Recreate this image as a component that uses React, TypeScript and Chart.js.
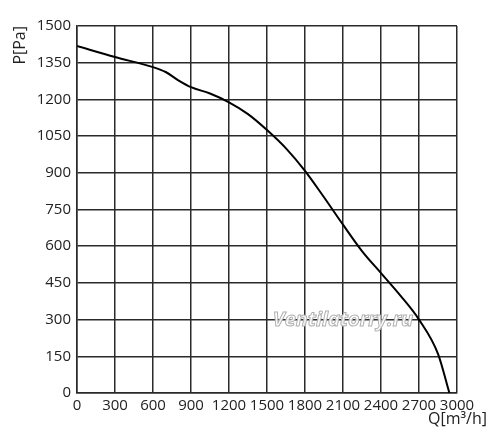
import React, { useEffect, useRef } from "react";
import { Chart, registerables } from "chart.js";

Chart.register(...registerables);

const flowQ = [0, 300, 600, 700, 800, 900, 1050, 1200, 1350, 1500, 1650, 1800, 1950, 2100, 2250, 2400, 2550, 2700, 2850, 2940];
const pressureP = [1418, 1373, 1332, 1312, 1278, 1250, 1224, 1188, 1140, 1075, 1000, 908, 800, 688, 580, 490, 400, 300, 160, 0];
const xTitle = "Q[m³/h]";
const yTitle = "P[Pa]";
const watermark = "Ventilatorry.ru";

const FONT = "'Open Sans', 'DejaVu Sans', sans-serif";

export default function App() {
  const ref = useRef<HTMLCanvasElement | null>(null);

  useEffect(() => {
    document.body.style.margin = "0";
    const canvas = ref.current;
    if (!canvas) return;

    const titlesPlugin = {
      id: "titles",
      beforeDatasetsDraw(chart: any) {
        const { ctx } = chart;
        ctx.save();
        ctx.font = `italic bold 20px ${FONT}`;
        ctx.textAlign = "center";
        ctx.textBaseline = "middle";
        ctx.lineWidth = 1;
        ctx.strokeStyle = "#b0b0b0";
        ctx.fillStyle = "rgba(255,255,255,0.9)";
        const wx = 343;
        const wy = 320;
        ctx.fillText(watermark, wx, wy);
        ctx.strokeText(watermark, wx, wy);
        ctx.restore();
      },
      afterDraw(chart: any) {
        const { ctx, chartArea } = chart;
        ctx.save();
        ctx.fillStyle = "#222";
        ctx.font = `16px ${FONT}`;
        ctx.textAlign = "right";
        ctx.textBaseline = "top";
        ctx.fillText(xTitle, 487, chartArea.bottom + 18);
        ctx.translate(20, chartArea.top);
        ctx.rotate(-Math.PI / 2);
        ctx.textAlign = "right";
        ctx.textBaseline = "middle";
        ctx.fillText(yTitle, 0, 0);
        ctx.restore();
      },
    };

    const chart = new Chart(canvas, {
      type: "line",
      data: {
        datasets: [
          {
            data: flowQ.map((q, i) => ({ x: q, y: pressureP[i] })),
            borderColor: "#000",
            borderWidth: 2,
            pointRadius: 0,
            fill: false,
            cubicInterpolationMode: "monotone",
          },
        ],
      },
      options: {
        animation: false,
        responsive: false,
        maintainAspectRatio: false,
        layout: { padding: { left: 0, right: 43, top: 26, bottom: 0 } },
        plugins: { legend: { display: false }, tooltip: { enabled: false } },
        scales: {
          x: {
            type: "linear",
            min: 0,
            max: 3000,
            afterFit: (s: any) => {
              s.height = 53;
            },
            afterBuildTicks: (s: any) => {
              s.ticks = [];
              for (let v = 0; v <= 3000; v += 300) s.ticks.push({ value: v });
            },
            grid: { color: "#2a2a2a", lineWidth: 1.5, drawTicks: false },
            border: { color: "#2a2a2a", width: 1.5 },
            ticks: {
              color: "#222",
              font: { family: FONT, size: 15 },
              padding: 4,
              maxRotation: 0,
              autoSkip: false,
              callback: (v: any) => String(v),
            },
          },
          y: {
            type: "linear",
            min: 0,
            max: 1500,
            afterFit: (s: any) => {
              s.width = 77;
            },
            afterBuildTicks: (s: any) => {
              s.ticks = [];
              for (let v = 0; v <= 1500; v += 150) s.ticks.push({ value: v });
            },
            grid: { color: "#2a2a2a", lineWidth: 1.5, drawTicks: false },
            border: { color: "#2a2a2a", width: 1.5 },
            ticks: {
              color: "#222",
              font: { family: FONT, size: 15 },
              padding: 6,
              autoSkip: false,
              callback: (v: any) => String(v),
            },
          },
        },
      },
      plugins: [titlesPlugin],
    });

    return () => chart.destroy();
  }, []);

  return (
    <div style={{ width: 500, height: 446 }}>
      <canvas ref={ref} width={500} height={446} style={{ width: 500, height: 446, display: "block" }} />
    </div>
  );
}
